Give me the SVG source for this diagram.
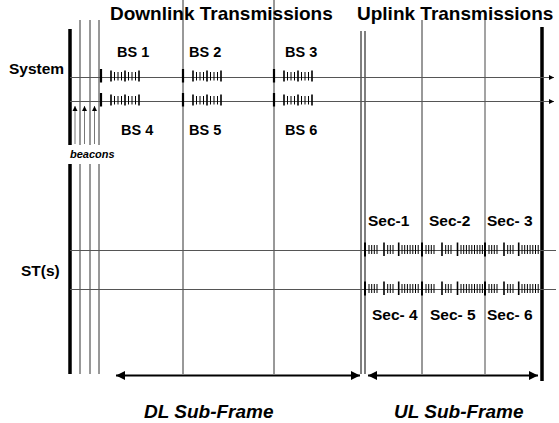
<svg xmlns="http://www.w3.org/2000/svg" width="559" height="423" viewBox="0 0 559 423">
<style>
text{font-family:"Liberation Sans",Arial,sans-serif;font-weight:bold;fill:#000}
.t19{font-size:19px}
.t15{font-size:15.5px}
.t14{font-size:14.5px}
.it{font-style:italic}
.hl{stroke:#555;stroke-width:1;fill:none}
.thin{stroke:#333;stroke-width:1;fill:none}
.gray{stroke:#666;stroke-width:1.2;fill:none}
.thick{stroke:#000;stroke-width:3.5;fill:none}
.tk{stroke:#000;fill:none}
.bc{stroke:#777;stroke-width:1;fill:none}
</style>
<defs>
<marker id="ah" viewBox="0 0 10 10" refX="10" refY="5" markerWidth="4.5" markerHeight="4.5" orient="auto-start-reverse" markerUnits="strokeWidth"><path d="M0,0L10,5L0,10z" fill="#000"/></marker>
<marker id="ahs" viewBox="0 0 10 10" refX="10" refY="5" markerWidth="5" markerHeight="6" orient="auto" markerUnits="userSpaceOnUse"><path d="M0,0L10,5L0,10z" fill="#000"/></marker>
<g id="bs">
<rect x="-1.1" y="-7.5" width="2.2" height="13.5" fill="#000"/>
<path class="tk" stroke-width="1.6" d="M10,-6V5M24,-6V5M38,-6V5"/>
<path class="tk" stroke-width="1" d="M13.5,-4.5V4M17,-4.5V4M20.5,-4.5V4M27.5,-4.5V4M31,-4.5V4M34.5,-4.5V4"/>
</g>
<g id="secA">
<rect x="-1" y="-7" width="2" height="14" fill="#000"/>
<path class="tk" stroke-width="1" d="M4,-4.5V4.5M6.7,-4.5V4.5M9.3,-4.5V4.5M12,-4.5V4.5M22.7,-4.5V4.5M25.3,-4.5V4.5M28,-4.5V4.5M37,-4.5V4.5M39.7,-4.5V4.5M42.4,-4.5V4.5M45.1,-4.5V4.5M47.8,-4.5V4.5M50.5,-4.5V4.5M53.2,-4.5V4.5"/>
<path class="tk" stroke-width="1.6" d="M19,-7V6.5M33.7,-7V6.5"/>
</g>
<g id="secB">
<rect x="-1" y="-7" width="2" height="14" fill="#000"/>
<path class="tk" stroke-width="1" d="M4,-4.5V4.5M6.7,-4.5V4.5M9.3,-4.5V4.5M12,-4.5V4.5M23.7,-4.5V4.5M26.3,-4.5V4.5M29,-4.5V4.5M39,-4.5V4.5M41.7,-4.5V4.5M44.4,-4.5V4.5M47.1,-4.5V4.5M49.8,-4.5V4.5M52.5,-4.5V4.5M55.2,-4.5V4.5M57.9,-4.5V4.5M60.4,-4.5V4.5"/>
<path class="tk" stroke-width="1.6" d="M20,-7V6.5M35.5,-7V6.5"/>
</g>
</defs>

<g id="frame">
<path class="thick" d="M70,29V145M70,164V374"/>
<path class="thin" d="M80,20V145M90,20V145M99,20V145M80,164V374M90,164V374M99,164V374"/>
<path class="thin" d="M183,0V374M274,0V374"/>
<path d="M361,31V374" stroke="#000" stroke-width="1" fill="none"/>
<path d="M365,31V374" stroke="#555" stroke-width="1.5" fill="none"/>
<path class="thin" d="M422,20V374"/>
<path class="gray" d="M485,20V374"/>
<path class="thick" d="M542,27V381"/>
</g>

<g id="connectors">
<path class="hl" d="M70,77.5H554" marker-end="url(#ahs)"/>
<path class="hl" d="M70,101.5H554" marker-end="url(#ahs)"/>
<path class="hl" d="M70,250.5H556"/>
<path class="hl" d="M70,289.5H556"/>
<path class="bc" d="M75,144V106" marker-end="url(#ahs)"/>
<path class="bc" d="M84.5,144V106" marker-end="url(#ahs)"/>
<path class="bc" d="M94.5,144V106" marker-end="url(#ahs)"/>
<path d="M116,375.5H360" stroke="#000" stroke-width="2" fill="none" marker-start="url(#ah)" marker-end="url(#ah)"/>
<path d="M368,375.5H538" stroke="#000" stroke-width="2" fill="none" marker-start="url(#ah)" marker-end="url(#ah)"/>
</g>

<g id="bs-bursts">
<use href="#bs" x="101" y="76.5"/>
<use href="#bs" x="183" y="76.5"/>
<use href="#bs" x="274" y="76.5"/>
<use href="#bs" x="101" y="100.5"/>
<use href="#bs" x="183" y="100.5"/>
<use href="#bs" x="274" y="100.5"/>
</g>

<g id="sec-bursts">
<use href="#secA" x="365" y="249.5"/>
<use href="#secB" x="422" y="249.5"/>
<use href="#secA" x="485" y="249.5"/>
<use href="#secA" x="365" y="288.5"/>
<use href="#secB" x="422" y="288.5"/>
<use href="#secA" x="485" y="288.5"/>
</g>

<g id="labels">
<text class="t19" x="110" y="20">Downlink Transmissions</text>
<text class="t19" x="357" y="20">Uplink Transmissions</text>
<text class="t15" x="9" y="74">System</text>
<text class="t15" x="21" y="276">ST(s)</text>
<text class="it" style="font-size:11px" x="70" y="158">beacons</text>
<text class="t14" x="117" y="57">BS 1</text>
<text class="t14" x="189" y="57">BS 2</text>
<text class="t14" x="285" y="57">BS 3</text>
<text class="t14" x="121" y="135">BS 4</text>
<text class="t14" x="189" y="135">BS 5</text>
<text class="t14" x="285" y="135">BS 6</text>
<text class="t15" x="368" y="226">Sec-1</text>
<text class="t15" x="429" y="226">Sec-2</text>
<text class="t15" x="487" y="226">Sec- 3</text>
<text class="t15" x="372" y="320">Sec- 4</text>
<text class="t15" x="430" y="320">Sec- 5</text>
<text class="t15" x="487" y="320">Sec- 6</text>
<text class="t19 it" x="144" y="418">DL Sub-Frame</text>
<text class="t19 it" x="394" y="418">UL Sub-Frame</text>
</g>
</svg>
